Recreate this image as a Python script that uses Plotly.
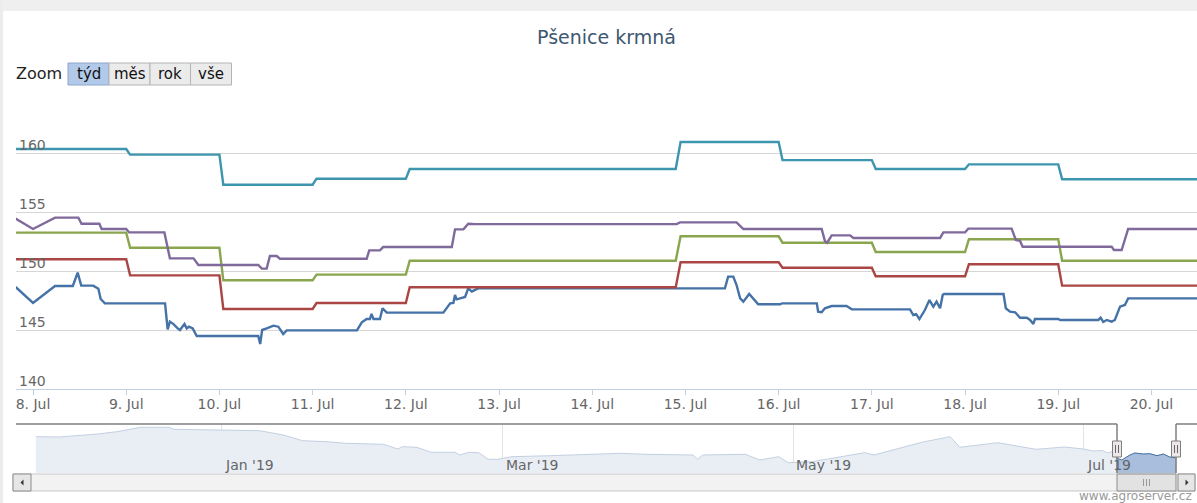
import plotly.graph_objects as go

# ---------------- data ----------------
step_times = ["2019-07-07 19:00", "2019-07-09 00:00", "2019-07-09 01:00", "2019-07-10 00:00",
              "2019-07-10 01:00", "2019-07-11 00:00", "2019-07-11 01:00", "2019-07-12 00:00",
              "2019-07-12 01:00", "2019-07-14 21:30", "2019-07-14 22:45", "2019-07-16 00:00",
              "2019-07-16 01:00", "2019-07-17 00:00", "2019-07-17 01:00", "2019-07-18 00:00",
              "2019-07-18 01:00", "2019-07-19 00:00", "2019-07-19 01:00", "2019-07-20 12:00"]
teal_values = [160.34, 160.34, 159.86, 159.86, 157.31, 157.31, 157.82, 157.82, 158.64, 158.64,
               160.93, 160.93, 159.40, 159.40, 158.64, 158.64, 159.04, 159.04, 157.77, 157.77]
red_values = [150.99, 150.99, 149.63, 149.63, 146.78, 146.78, 147.29, 147.29, 148.62, 148.62,
              150.74, 150.74, 150.28, 150.28, 149.55, 149.55, 150.57, 150.57, 148.76, 148.76]
green_values = [153.25, 153.25, 151.97, 151.97, 149.21, 149.21, 149.69, 149.69, 150.87, 150.87,
                152.94, 152.94, 152.40, 152.40, 151.61, 151.61, 152.69, 152.69, 150.87, 150.87]

purple_times = ["2019-07-07 19:30", "2019-07-08 00:00", "2019-07-08 05:40", "2019-07-08 11:40",
                "2019-07-08 12:30", "2019-07-08 17:05", "2019-07-08 17:40", "2019-07-09 00:00",
                "2019-07-09 00:45", "2019-07-09 09:50", "2019-07-09 11:15", "2019-07-09 17:20",
                "2019-07-09 18:35", "2019-07-10 10:00", "2019-07-10 10:55", "2019-07-10 12:10",
                "2019-07-10 13:00", "2019-07-10 14:45", "2019-07-10 15:35", "2019-07-11 13:55",
                "2019-07-11 14:35", "2019-07-11 17:20", "2019-07-11 18:10", "2019-07-12 11:50",
                "2019-07-12 12:40", "2019-07-12 14:50", "2019-07-12 16:05", "2019-07-12 17:50",
                "2019-07-14 21:45", "2019-07-14 22:35", "2019-07-15 13:10", "2019-07-15 14:55",
                "2019-07-16 11:05", "2019-07-16 11:55", "2019-07-16 12:30", "2019-07-16 13:40",
                "2019-07-16 18:25", "2019-07-16 19:15", "2019-07-17 17:35", "2019-07-17 18:25",
                "2019-07-18 00:00", "2019-07-18 00:50", "2019-07-18 12:00", "2019-07-18 13:05",
                "2019-07-18 14:10", "2019-07-18 14:50", "2019-07-19 13:45", "2019-07-19 14:20",
                "2019-07-19 16:20", "2019-07-19 18:00", "2019-07-20 12:00"]
purple_values = [154.45, 153.56, 154.52, 154.52, 154.00, 154.00, 153.56, 153.56,
                 153.27, 153.27, 151.07, 151.07, 150.51, 150.51, 150.20, 150.20,
                 151.27, 151.27, 151.04, 151.04, 151.75, 151.75, 152.03, 152.03,
                 153.53, 153.53, 154.00, 153.97, 153.97, 154.12, 154.12, 153.56,
                 153.56, 152.54, 152.40, 153.02, 153.02, 152.80, 152.80, 153.27,
                 153.27, 153.59, 153.59, 152.63, 152.55, 152.06, 152.06, 151.78,
                 151.78, 153.56, 153.56]

blue_times = ["2019-07-07 19:30", "2019-07-08 00:00", "2019-07-08 05:40", "2019-07-08 10:15",
              "2019-07-08 11:30", "2019-07-08 12:25", "2019-07-08 15:30", "2019-07-08 16:50",
              "2019-07-08 17:25", "2019-07-08 18:30", "2019-07-09 10:00", "2019-07-09 10:40",
              "2019-07-09 11:15", "2019-07-09 12:10", "2019-07-09 13:15", "2019-07-09 13:50",
              "2019-07-09 15:00", "2019-07-09 15:35", "2019-07-09 16:10", "2019-07-09 17:07",
              "2019-07-09 18:10", "2019-07-10 10:00", "2019-07-10 10:30", "2019-07-10 11:00",
              "2019-07-10 12:10", "2019-07-10 13:55", "2019-07-10 15:10", "2019-07-10 16:25",
              "2019-07-10 17:20", "2019-07-11 11:25", "2019-07-11 12:40", "2019-07-11 13:55",
              "2019-07-11 14:45", "2019-07-11 15:10", "2019-07-11 15:40", "2019-07-11 17:20",
              "2019-07-11 18:00", "2019-07-11 19:05", "2019-07-12 09:40", "2019-07-12 11:25",
              "2019-07-12 12:15", "2019-07-12 12:40", "2019-07-12 13:05", "2019-07-12 15:15",
              "2019-07-12 16:05", "2019-07-12 17:00", "2019-07-12 17:50", "2019-07-12 18:40",
              "2019-07-15 10:10", "2019-07-15 11:00", "2019-07-15 12:20", "2019-07-15 13:10",
              "2019-07-15 14:05", "2019-07-15 14:55", "2019-07-15 16:25", "2019-07-15 17:30",
              "2019-07-15 18:45", "2019-07-16 00:25", "2019-07-16 00:50", "2019-07-16 09:50",
              "2019-07-16 10:10", "2019-07-16 11:05", "2019-07-16 11:55", "2019-07-16 13:40",
              "2019-07-16 17:30", "2019-07-16 18:50", "2019-07-17 09:50", "2019-07-17 10:40",
              "2019-07-17 11:25", "2019-07-17 12:15", "2019-07-17 13:40", "2019-07-17 14:50",
              "2019-07-17 15:50", "2019-07-17 16:40", "2019-07-17 17:35", "2019-07-17 18:15",
              "2019-07-17 18:35", "2019-07-18 09:55", "2019-07-18 10:30", "2019-07-18 11:35",
              "2019-07-18 12:55", "2019-07-18 14:10", "2019-07-18 15:55", "2019-07-18 16:45",
              "2019-07-18 17:35", "2019-07-18 18:00", "2019-07-19 00:00", "2019-07-19 00:30",
              "2019-07-19 10:20", "2019-07-19 10:55", "2019-07-19 11:35", "2019-07-19 12:30",
              "2019-07-19 13:45", "2019-07-19 14:35", "2019-07-19 15:55", "2019-07-19 17:10",
              "2019-07-19 18:00", "2019-07-20 12:00"]
blue_values = [148.65, 147.29, 148.73, 148.73, 149.86, 148.76, 148.76, 148.50,
               147.63, 147.26, 147.26, 145.06, 145.71, 145.50, 145.14, 145.00,
               145.51, 145.14, 145.28, 145.14, 144.49, 144.49, 143.81, 145.00,
               145.14, 145.37, 145.28, 144.66, 144.97, 144.97, 145.65, 145.93,
               145.93, 146.36, 145.93, 145.93, 146.84, 146.47, 146.47, 147.26,
               147.30, 147.97, 147.60, 147.80, 148.53, 148.25, 148.40, 148.53,
               148.53, 149.52, 149.52, 148.81, 147.68, 147.40, 148.05, 147.60,
               147.18, 147.18, 147.26, 147.26, 146.55, 146.50, 146.84, 147.03,
               147.03, 146.75, 146.75, 146.27, 146.35, 145.93, 146.69, 147.54,
               146.98, 147.40, 146.84, 147.97, 148.05, 148.05, 146.84, 146.55,
               146.50, 146.04, 146.04, 145.85, 145.51, 145.93, 145.93, 145.85,
               145.85, 146.04, 145.68, 145.85, 145.71, 145.85, 146.98, 147.12,
               147.68, 147.68]

# navigator (whole history, overview series)
nav_times = ["2018-11-23", "2018-11-28", "2018-12-06", "2018-12-10", "2018-12-15", "2018-12-21",
             "2018-12-22", "2019-01-01", "2019-01-09", "2019-01-14", "2019-01-18", "2019-01-23",
             "2019-01-27", "2019-02-04", "2019-02-07", "2019-02-08", "2019-02-11", "2019-02-14",
             "2019-02-19", "2019-02-20", "2019-02-22", "2019-02-24", "2019-02-26", "2019-02-28",
             "2019-03-03", "2019-03-11", "2019-03-21", "2019-03-26", "2019-03-31", "2019-04-10",
             "2019-04-11", "2019-04-12", "2019-04-21", "2019-04-24", "2019-04-28", "2019-04-30",
             "2019-05-05", "2019-05-16", "2019-05-18", "2019-05-24", "2019-05-28", "2019-06-03",
             "2019-06-05", "2019-06-13", "2019-06-21", "2019-06-27", "2019-07-01", "2019-07-03",
             "2019-07-05", "2019-07-06", "2019-07-07", "2019-07-07 20:00", "2019-07-09",
             "2019-07-10 18:00", "2019-07-11 18:00", "2019-07-13 12:00", "2019-07-14 22:00",
             "2019-07-16 10:00", "2019-07-17 17:00", "2019-07-19 02:00", "2019-07-20 11:00"]
nav_values = [168.3, 168.0, 171.0, 173.3, 177.7, 177.7,
              175.7, 175.0, 174.3, 170.0, 164.3, 163.3,
              161.7, 160.7, 156.0, 158.3, 157.7, 152.7,
              152.7, 150.0, 152.7, 152.3, 145.7, 145.7,
              148.3, 149.3, 151.0, 151.7, 150.7, 150.0,
              145.7, 150.0, 150.7, 145.0, 148.3, 142.3,
              143.3, 152.3, 150.0, 157.7, 162.7, 168.3,
              157.7, 162.3, 155.7, 158.0, 156.0, 154.0,
              154.5, 152.0, 153.3, 147.0, 145.0,
              150.0, 152.0, 151.0, 151.3,
              149.3, 151.0, 148.0, 147.0]
selection_start = "2019-07-07 19:37"
selection_end = "2019-07-20 11:44"
nav_range = ["2018-11-22 00:00", "2019-07-24 19:30"]
nav_label_dates = ["2019-01-01", "2019-03-01", "2019-05-01", "2019-07-01"]
nav_label_texts = ["Jan '19", "Mar '19", "May '19", "Jul '19"]

y_ticks = [140, 145, 150, 155, 160]
zoom_buttons = ["týd", "měs", "rok", "vše"]

# ---------------- geometry helpers ----------------
W_FIG, H_FIG = 1197, 503
L, R, T, B = 16, 1197, 94, 473
PW, PH = R - L, B - T


def px(x):
    return (x - L) / PW


def py(y):
    return (B - y) / PH


FONT = "DejaVu Sans"
fig = go.Figure()

# navigator series
fig.add_trace(go.Scatter(x=nav_times, y=nav_values, xaxis="x2", yaxis="y2", mode="lines",
                         line=dict(color="#c3d0e2", width=1), fill="tozeroy",
                         fillcolor="#e9eef5", hoverinfo="skip", showlegend=False))
sel_t = [t for t in nav_times if t >= "2019-07-07 20:00"]
sel_v = [v for t, v in zip(nav_times, nav_values) if t >= "2019-07-07 20:00"]
fig.add_trace(go.Scatter(x=sel_t, y=sel_v, xaxis="x2", yaxis="y2", mode="lines",
                         line=dict(color="#4572A7", width=1), fill="tozeroy",
                         fillcolor="#a9bedc", hoverinfo="skip", showlegend=False))

series = [("řada 1", blue_times, blue_values, "#4572A7"),
          ("řada 2", step_times, red_values, "#AA4643"),
          ("řada 3", step_times, green_values, "#89A54E"),
          ("řada 4", purple_times, purple_values, "#80699B"),
          ("řada 5", step_times, teal_values, "#3D96AE")]
for name, t, v, c in series:
    fig.add_trace(go.Scatter(x=t, y=v, mode="lines", name=name,
                             line=dict(color=c, width=2.4), showlegend=False))

shapes = []
# container edge shading
shapes.append(dict(type="rect", xref="paper", yref="paper", x0=px(0), x1=px(W_FIG),
                   y0=py(0), y1=py(11), fillcolor="#efefef", line=dict(width=0), layer="below"))
shapes.append(dict(type="rect", xref="paper", yref="paper", x0=px(0), x1=px(3),
                   y0=py(0), y1=py(H_FIG), fillcolor="#ececec", line=dict(width=0), layer="below"))

# zoom buttons
btn_x = [68, 109, 150, 190.5, 231.5]
for i, lab in enumerate(zoom_buttons):
    sel = i == 0
    shapes.append(dict(type="rect", xref="paper", yref="paper",
                       x0=px(btn_x[i]), x1=px(btn_x[i + 1]), y0=py(85), y1=py(63),
                       fillcolor="#b2c9ea" if sel else "#ebebeb",
                       line=dict(color="#8ea6c8" if sel else "#b4b4b4", width=1)))

# navigator outline
sel_x0, sel_x1 = 1117, 1176
oc = "#7f7f7f"
shapes.append(dict(type="line", xref="paper", yref="paper", x0=px(16), x1=px(sel_x0),
                   y0=py(424), y1=py(424), line=dict(color=oc, width=1.5)))
shapes.append(dict(type="line", xref="paper", yref="paper", x0=px(sel_x1), x1=px(1197),
                   y0=py(424), y1=py(424), line=dict(color=oc, width=1.5)))
for xx in (sel_x0, sel_x1):
    shapes.append(dict(type="line", xref="paper", yref="paper", x0=px(xx), x1=px(xx),
                       y0=py(424), y1=py(473), line=dict(color=oc, width=1.5)))

# scrollbar
shapes.append(dict(type="rect", xref="paper", yref="paper", x0=px(13), x1=px(1195),
                   y0=py(491), y1=py(474), fillcolor="#f2f2f2", line=dict(color="#c8c8c8", width=1)))
for a, b in ((13, 31), (1178, 1195)):
    shapes.append(dict(type="rect", xref="paper", yref="paper", x0=px(a), x1=px(b),
                       y0=py(491), y1=py(474), fillcolor="#e6e6e6", line=dict(color="#8c8c8c", width=1)))
shapes.append(dict(type="rect", xref="paper", yref="paper", x0=px(sel_x0), x1=px(sel_x1),
                   y0=py(491), y1=py(474), fillcolor="#e2e2e2", line=dict(color="#8c8c8c", width=1)))
for gx in (1143.5, 1146.5, 1149.5):
    shapes.append(dict(type="line", xref="paper", yref="paper", x0=px(gx), x1=px(gx),
                       y0=py(486), y1=py(479), line=dict(color="#999999", width=1)))


def tri(cx, cy, d):
    pts = [(cx + d * 2, cy - 3), (cx + d * 2, cy + 3), (cx - d * 1, cy)]
    return "M " + " L ".join(f"{px(a)},{py(b)}" for a, b in pts) + " Z"


shapes.append(dict(type="path", xref="paper", yref="paper", path=tri(21.5, 482.5, 1),
                   fillcolor="#333333", line=dict(width=0)))
shapes.append(dict(type="path", xref="paper", yref="paper", path=tri(1187.5, 482.5, -1),
                   fillcolor="#333333", line=dict(width=0)))

# handles
for hx in (sel_x0, sel_x1):
    shapes.append(dict(type="rect", xref="paper", yref="paper", x0=px(hx - 4.5), x1=px(hx + 4.5),
                       y0=py(457), y1=py(441), fillcolor="#ebe7e8", line=dict(color="#7f7f7f", width=1)))
    for gx in (hx - 1.5, hx + 1.5):
        shapes.append(dict(type="line", xref="paper", yref="paper", x0=px(gx), x1=px(gx),
                           y0=py(453), y1=py(445), line=dict(color="#666666", width=1)))

annotations = []
# y labels
for v in y_ticks:
    annotations.append(dict(text=str(v), xref="paper", yref="y", x=px(17), y=v,
                            xanchor="left", yanchor="bottom", yshift=-2, showarrow=False,
                            font=dict(family=FONT, size=14, color="#666666")))
# zoom label + button texts
annotations.append(dict(text="Zoom", xref="paper", yref="paper", x=px(14), y=py(74),
                        xanchor="left", yanchor="middle", showarrow=False,
                        font=dict(family=FONT, size=16, color="#222222")))
for i, lab in enumerate(zoom_buttons):
    annotations.append(dict(text=lab, xref="paper", yref="paper",
                            x=px((btn_x[i] + btn_x[i + 1]) / 2), y=py(74),
                            xanchor="center", yanchor="middle", showarrow=False,
                            font=dict(family=FONT, size=15, color="#111111")))
# navigator labels
for d, t in zip(nav_label_dates, nav_label_texts):
    annotations.append(dict(text=t, xref="x2", yref="paper", x=d, y=py(465), xshift=1,
                            xanchor="left", yanchor="middle", showarrow=False,
                            font=dict(family=FONT, size=14, color="#666666")))
# credits
annotations.append(dict(text="www.agroserver.cz", xref="paper", yref="paper", x=px(1194), y=py(496),
                        xanchor="right", yanchor="middle", showarrow=False,
                        font=dict(family=FONT, size=12, color="#999999")))

fig.update_layout(
    width=W_FIG, height=H_FIG,
    margin=dict(l=L, r=W_FIG - R, t=T, b=H_FIG - B, pad=0),
    paper_bgcolor="white", plot_bgcolor="white",
    title=dict(text="Pšenice krmná", x=0.5, xref="paper", xanchor="center",
               y=1 - 37 / H_FIG, yref="container", yanchor="middle",
               font=dict(family=FONT, size=19, color="#3E576F")),
    xaxis=dict(type="date", domain=[0, 1], anchor="y", range=[selection_start, selection_end],
               tick0="2019-07-08", dtick=86400000, tickformat="%-d. %b",
               showgrid=False, showline=True, linecolor="#C0D0E0", linewidth=1,
               ticks="outside", ticklen=5, tickcolor="#C0D0E0", ticklabelstandoff=-3,
               tickfont=dict(family=FONT, size=14, color="#666666"), zeroline=False),
    yaxis=dict(domain=[py(389), 1], range=[140, 165], tick0=140, dtick=5,
               showgrid=True, gridcolor="#d6d6d6", gridwidth=1, showticklabels=False,
               zeroline=False, showline=False, ticks=""),
    xaxis2=dict(type="date", domain=[px(31), 1], anchor="y2", range=nav_range,
                tickvals=nav_label_dates, showticklabels=False, showgrid=True,
                gridcolor="#e4e4e4", ticks="", showline=False, zeroline=False),
    yaxis2=dict(domain=[0, py(424)], range=[132, 181], showgrid=False, showticklabels=False,
                zeroline=False, showline=False, ticks=""),
    shapes=shapes, annotations=annotations, showlegend=False,
)

fig.write_html("out.html", config={"displayModeBar": False},
               post_script="document.body.style.margin='0';document.body.style.overflow='hidden';")
